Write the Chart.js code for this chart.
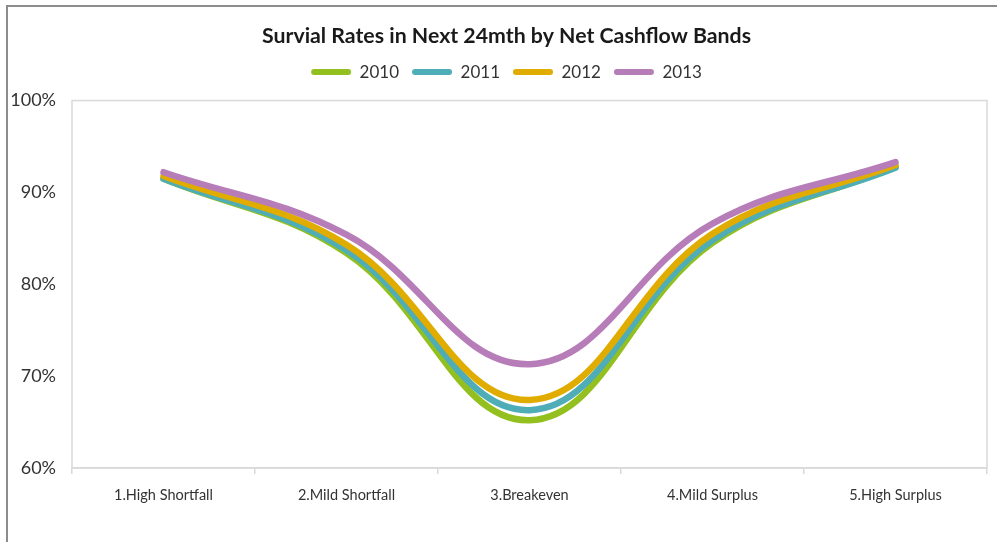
<!DOCTYPE html>
<html>
<head>
<meta charset="utf-8">
<script src="https://cdn.jsdelivr.net/npm/chart.js@4.4.1/dist/chart.umd.min.js"></script>
<style>
  html, body { margin: 0; padding: 0; background: #fff; }
  #wrap { position: relative; width: 997px; height: 542px; overflow: hidden; }
  #frame { position: absolute; left: 6px; top: 5px; right: 0; bottom: 0; border-left: 2px solid #8c8c8c; border-top: 2px solid #8c8c8c; pointer-events: none; }
  canvas { position: absolute; left: 0; top: 0; }
</style>
</head>
<body>
<div id="wrap">
  <canvas id="c" width="997" height="542"></canvas>
  <div id="frame"></div>
</div>
<script>
const categories = ["1.High Shortfall", "2.Mild Shortfall", "3.Breakeven", "4.Mild Surplus", "5.High Surplus"];
const seriesNames = ["2010", "2011", "2012", "2013"];
const values2010 = [0.915, 0.834, 0.652, 0.845, 0.928];
const values2011 = [0.915, 0.837, 0.663, 0.848, 0.927];
const values2012 = [0.918, 0.843, 0.674, 0.855, 0.930];
const values2013 = [0.922, 0.854, 0.713, 0.866, 0.933];
const seriesColors = ["#93C01F", "#4FADB8", "#E0AC00", "#B77DB9"];
const yTicks = [0.6, 0.7, 0.8, 0.9, 1.0];

const allValues = [values2010, values2011, values2012, values2013];

const headerShift = 13;

const layoutTweaks = {
  id: 'layoutTweaks',
  beforeLayout(chart) {
    const lg = chart.legend;
    if (lg && !lg._extraGap) {
      const origFit = lg.fit.bind(lg);
      lg.fit = function () { origFit(); this.height += 10; };
      lg._extraGap = true;
    }
  },
  afterLayout(chart) {
    [chart.titleBlock, chart.legend].forEach(b => {
      if (b) { b.left += headerShift; b.right += headerShift; }
    });
  },
  beforeDatasetsDraw(chart) {
    const a = chart.chartArea, ctx = chart.ctx;
    ctx.save();
    ctx.strokeStyle = '#d9d9d9';
    ctx.lineWidth = 1.5;
    ctx.strokeRect(a.left, a.top, a.right - a.left, a.bottom - a.top);
    ctx.restore();
  }
};

new Chart(document.getElementById('c'), {
  type: 'line',
  data: {
    labels: categories,
    datasets: seriesNames.map((name, i) => ({
      label: name,
      data: allValues[i],
      borderColor: seriesColors[i],
      backgroundColor: seriesColors[i],
      borderWidth: 6.5,
      borderCapStyle: 'round',
      pointRadius: 0,
      tension: 0.4,
      order: seriesNames.length - i,
      fill: false
    }))
  },
  options: {
    responsive: false,
    animation: false,
    layout: { padding: { left: 0, right: 10, top: 23, bottom: 0 } },
    plugins: {
      title: {
        display: true,
        text: 'Survial Rates in Next 24mth by Net Cashflow Bands',
        color: '#1a1a1a',
        font: { family: 'Lato', size: 21.3, weight: 'bold' },
        padding: { top: 0, bottom: 2 }
      },
      legend: {
        display: true,
        labels: {
          color: '#333',
          font: { family: 'Lato', size: 17 },
          boxWidth: 40,
          boxHeight: 6,
          useBorderRadius: true,
          borderRadius: 3,
          padding: 13,
          sort: (a, b) => a.datasetIndex - b.datasetIndex,
          generateLabels: (chart) => Chart.defaults.plugins.legend.labels.generateLabels(chart).map(l => Object.assign(l, { lineWidth: 0 }))
        }
      },
      tooltip: { enabled: false }
    },
    scales: {
      x: {
        offset: true,
        grid: { offset: true, drawOnChartArea: false, drawTicks: true, tickLength: 6, color: '#d9d9d9', lineWidth: 1.5 },
        border: { color: '#d9d9d9', width: 1.5 },
        ticks: { color: '#333', font: { family: 'Lato', size: 14.5 }, padding: 13, maxRotation: 0 },
        afterFit(s) { s.height = 74; }
      },
      y: {
        min: 0.6, max: 1.0,
        afterBuildTicks(s) { s.ticks = yTicks.map(v => ({ value: v })); },
        grid: { display: false, drawTicks: false },
        border: { display: false },
        ticks: { color: '#333', font: { family: 'Lato', size: 18 }, padding: 16,
                 callback: v => Math.round(v * 100) + '%' },
        afterFit(s) { s.width = 72; }
      }
    }
  },
  plugins: [layoutTweaks]
});
</script>
</body>
</html>
